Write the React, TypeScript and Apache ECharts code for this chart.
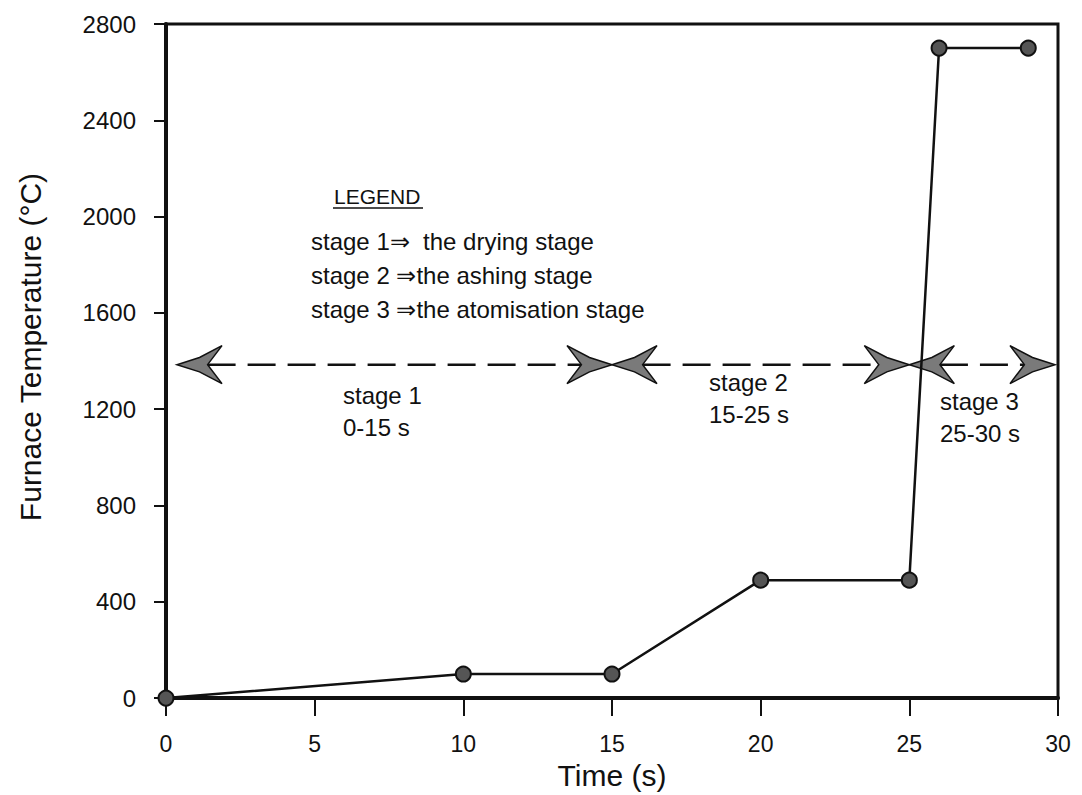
import React, { useEffect, useRef } from "react";
import * as echarts from "echarts";

// Furnace programme: time (s) vs temperature (°C)
const timeValues = [0, 10, 15, 20, 25, 26, 29];
const temperatureValues = [0, 100, 100, 490, 490, 2700, 2700];

// Stage spans drawn as double-headed dashed arrows
const stageStart = [0, 15, 25];
const stageEnd = [15, 25, 30];
const stageArrowLevel = 1385;

const xTicks = { min: 0, max: 30, interval: 5 };
const yTicks = { min: 0, max: 2800, interval: 400 };

const legendTitle = "LEGEND";
const legendLines = [
  "stage 1\u21d2  the drying stage",
  "stage 2 \u21d2the ashing stage",
  "stage 3 \u21d2the atomisation stage",
];
const stageLabels = ["stage 1\n0-15 s", "stage 2\n15-25 s", "stage 3\n25-30 s"];

const FONT = "'Liberation Sans', Arial, Helvetica, sans-serif";
const INK = "#111";

export default function App() {
  const ref = useRef<HTMLDivElement>(null);

  useEffect(() => {
    if (!ref.current) return;
    const chart = echarts.init(ref.current, undefined, { renderer: "svg" });

    const lineData = timeValues.map((t, i) => [t, temperatureValues[i]]);
    const arrowData = stageStart.map((s, i) => [s, stageEnd[i], stageArrowLevel]);

    const renderArrow = (params: any, api: any) => {
      const s = api.coord([api.value(0), api.value(2)]);
      const e = api.coord([api.value(1), api.value(2)]);
      const cs = params.coordSys;
      const x0 = Math.max(s[0], cs.x + 11);
      const x1 = Math.min(e[0], cs.x + cs.width - 3);
      const y = s[1];
      const L = 45;
      const H = 38;
      const N = 0.68;
      const head = (tx: number, dir: number) => ({
        type: "polygon",
        shape: {
          points: [
            [tx, y],
            [tx - dir * L * 0.5, y - H * 0.19],
            [tx - dir * L, y - H / 2],
            [tx - dir * L * N, y],
            [tx - dir * L, y + H / 2],
            [tx - dir * L * 0.5, y + H * 0.19],
          ],
        },
        style: { fill: "#7a7a7a", stroke: INK, lineWidth: 1.5 },
      });
      return {
        type: "group",
        children: [
          {
            type: "line",
            shape: { x1: x0 + L * N, y1: y, x2: x1 - L * N, y2: y },
            style: { stroke: INK, lineWidth: 2.5, lineDash: [28, 12] },
          },
          head(x0, -1),
          head(x1, 1),
        ],
      };
    };

    const textStyle = (extra: any) => ({
      fill: INK,
      font: `24px ${FONT}`,
      textVerticalAlign: "middle",
      ...extra,
    });

    chart.setOption({
      animation: false,
      backgroundColor: "#fff",
      grid: {
        left: 166,
        right: 24,
        top: 24,
        bottom: 92,
        show: true,
        borderColor: INK,
        borderWidth: 3,
      },
      xAxis: {
        type: "value",
        min: xTicks.min,
        max: xTicks.max,
        interval: xTicks.interval,
        name: "Time (s)",
        nameLocation: "middle",
        nameGap: 56,
        nameTextStyle: { fontSize: 30, fontFamily: FONT, color: INK },
        axisLine: { show: true, lineStyle: { color: INK, width: 4 } },
        axisTick: { show: true, length: 18, lineStyle: { color: INK, width: 2 } },
        axisLabel: {
          fontSize: 23,
          fontFamily: FONT,
          color: INK,
          margin: 34,
          formatter: (v: number) => String(v),
        },
        splitLine: { show: false },
      },
      yAxis: {
        type: "value",
        min: yTicks.min,
        max: yTicks.max,
        interval: yTicks.interval,
        axisLine: { show: true, lineStyle: { color: INK, width: 4 } },
        axisTick: { show: true, length: 12, lineStyle: { color: INK, width: 2 } },
        axisLabel: {
          fontSize: 24,
          fontFamily: FONT,
          color: INK,
          margin: 30,
          formatter: (v: number) => String(v),
        },
        splitLine: { show: false },
      },
      series: [
        {
          type: "custom",
          renderItem: renderArrow,
          data: arrowData,
          z: 1,
          silent: true,
        },
        {
          type: "line",
          data: lineData,
          z: 3,
          symbol: "circle",
          symbolSize: 15,
          lineStyle: { color: INK, width: 2.5 },
          itemStyle: { color: "#555", borderColor: INK, borderWidth: 2 },
        },
      ],
      graphic: [
        {
          type: "text",
          x: 30,
          y: 347,
          rotation: Math.PI / 2,
          style: {
            text: "Furnace Temperature (\u00b0C)",
            fill: INK,
            font: `30px ${FONT}`,
            textAlign: "center",
            textVerticalAlign: "middle",
          },
        },
        {
          type: "text",
          x: 334,
          y: 196,
          style: textStyle({ text: legendTitle, font: `21px ${FONT}` }),
        },
        {
          type: "line",
          shape: { x1: 333, y1: 208, x2: 423, y2: 208 },
          style: { stroke: INK, lineWidth: 1.5 },
        },
        ...legendLines.map((t, i) => ({
          type: "text",
          x: 311,
          y: 241 + i * 34,
          style: textStyle({ text: t }),
        })),
        {
          type: "text",
          x: 343,
          y: 411,
          style: textStyle({ text: stageLabels[0], lineHeight: 32 }),
        },
        {
          type: "text",
          x: 709,
          y: 398,
          style: textStyle({ text: stageLabels[1], lineHeight: 32 }),
        },
        {
          type: "text",
          x: 940,
          y: 417,
          style: textStyle({ text: stageLabels[2], lineHeight: 32 }),
        },
      ],
    });

    return () => chart.dispose();
  }, []);

  return (
    <div
      ref={ref}
      style={{ position: "fixed", left: 0, top: 0, width: 1082, height: 795, background: "#fff" }}
    />
  );
}
